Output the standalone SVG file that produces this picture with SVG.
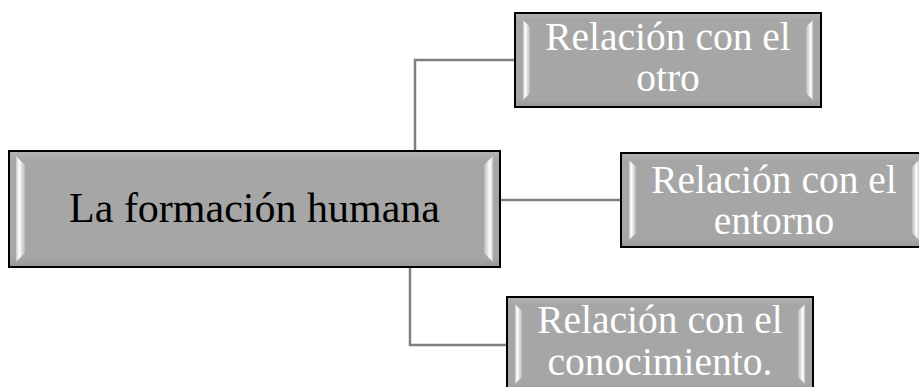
<svg xmlns="http://www.w3.org/2000/svg" width="919" height="387" viewBox="0 0 919 387">
<defs>
<linearGradient id="barL" x1="0" y1="0" x2="1" y2="0">
<stop offset="0" stop-color="#c8c8c8"/>
<stop offset="0.35" stop-color="#ffffff"/>
<stop offset="1" stop-color="#b8b8b8"/>
</linearGradient>
<linearGradient id="barR" x1="0" y1="0" x2="1" y2="0">
<stop offset="0" stop-color="#b8b8b8"/>
<stop offset="0.65" stop-color="#ffffff"/>
<stop offset="1" stop-color="#c8c8c8"/>
</linearGradient>
<linearGradient id="face" x1="0" y1="0" x2="0" y2="1">
<stop offset="0" stop-color="#b4b4b4"/>
<stop offset="0.08" stop-color="#a6a6a6"/>
<stop offset="0.92" stop-color="#a6a6a6"/>
<stop offset="1" stop-color="#989898"/>
</linearGradient>
</defs>
<style>
.box{fill:url(#face);stroke:#000;stroke-width:2}
.bl{fill:url(#barL)}
.br{fill:url(#barR)}
.conn{fill:none;stroke:#808080;stroke-width:2.5}
.t{font-family:"Liberation Serif","Times New Roman",serif;text-anchor:middle}
.main{font-size:42px;fill:#000}
.sub{font-size:39.5px;fill:#fff}
</style>
<g id="connectors">
<path class="conn" d="M515 60H415V151"/>
<path class="conn" d="M500 200H621"/>
<path class="conn" d="M410 267V345H507"/>
</g>
<g id="main">
<rect class="box" x="9" y="151" width="491" height="116"/>
<path class="bl" d="M16 156 L25 165 L25 253 L16 262 Z"/>
<path class="br" d="M493 156 L484 165 L484 253 L493 262 Z"/>
<text class="t main" x="254.5" y="222">La formación humana</text>
</g>
<g id="otro">
<rect class="box" x="515" y="13" width="306" height="94"/>
<path class="bl" d="M523 20 L530 27 L530 93 L523 100 Z"/>
<path class="br" d="M813 20 L806 27 L806 93 L813 100 Z"/>
<text class="t sub" x="668" y="50">Relación con el</text>
<text class="t sub" x="668" y="91">otro</text>
</g>
<g id="entorno">
<rect class="box" x="621" y="153" width="306" height="94"/>
<path class="bl" d="M629 160 L636 167 L636 233 L629 240 Z"/>
<path class="br" d="M919 160 L912 167 L912 233 L919 240 Z"/>
<text class="t sub" x="774" y="193">Relación con el</text>
<text class="t sub" x="774" y="234">entorno</text>
</g>
<g id="conocimiento">
<rect class="box" x="507" y="297" width="306" height="94"/>
<path class="bl" d="M515 304 L522 311 L522 377 L515 384 Z"/>
<path class="br" d="M805 304 L798 311 L798 377 L805 384 Z"/>
<text class="t sub" x="660" y="333">Relación con el</text>
<text class="t sub" x="660" y="375">conocimiento.</text>
</g>
</svg>
